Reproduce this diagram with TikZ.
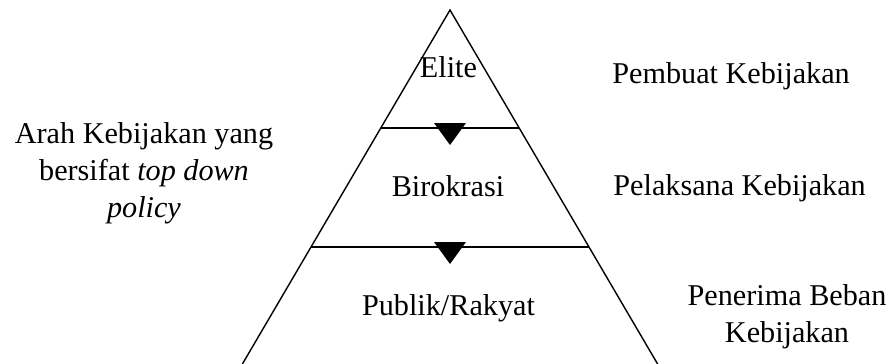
\documentclass[tikz,border=0pt]{standalone}
\usepackage{fontspec}
\setmainfont{Liberation Serif}
\begin{document}
\begin{tikzpicture}[x=0.5pt,y=-0.5pt,
  lbl/.style={inner sep=0pt,anchor=base,font=\fontsize{15.1}{18.3}\selectfont},
  edge/.style={line width=0.7pt,black},
  head/.style={fill=black}]
\useasboundingbox (0,0) rectangle (894,364);
% pyramid geometry
\coordinate (apex) at (450,10);
\coordinate (bl) at (242.4,364);
\coordinate (br) at (657.6,364);
\coordinate (l1a) at (380.8,128);
\coordinate (l1b) at (519.2,128);
\coordinate (l2a) at (311,247);
\coordinate (l2b) at (589,247);
\draw[edge] (bl) -- (apex) -- (br);
\draw[edge] (l1a) -- (l1b);
\draw[edge] (l2a) -- (l2b);
% arrowheads
\fill[head] (434,123) -- (466,123) -- (450,145) -- cycle;
\fill[head] (434,242) -- (466,242) -- (450,264) -- cycle;
% level labels
\node[lbl] (elite) at (448.5,77) {Elite};
\node[lbl] (biro) at (448,196) {Birokrasi};
\node[lbl] (publik) at (448.5,315) {Publik/Rakyat};
% right labels
\node[lbl,anchor=base west] (pembuat) at (612,83) {Pembuat Kebijakan};
\node[lbl,anchor=base west] (pelaksana) at (613,195) {Pelaksana Kebijakan};
\node[lbl,align=center] (penerima) at (787,342) {Penerima Beban\\Kebijakan};
% left label
\node[lbl,align=center] (arah) at (144,217) {Arah Kebijakan yang\\bersifat \textit{top down}\\\textit{policy}};
\end{tikzpicture}
\end{document}
